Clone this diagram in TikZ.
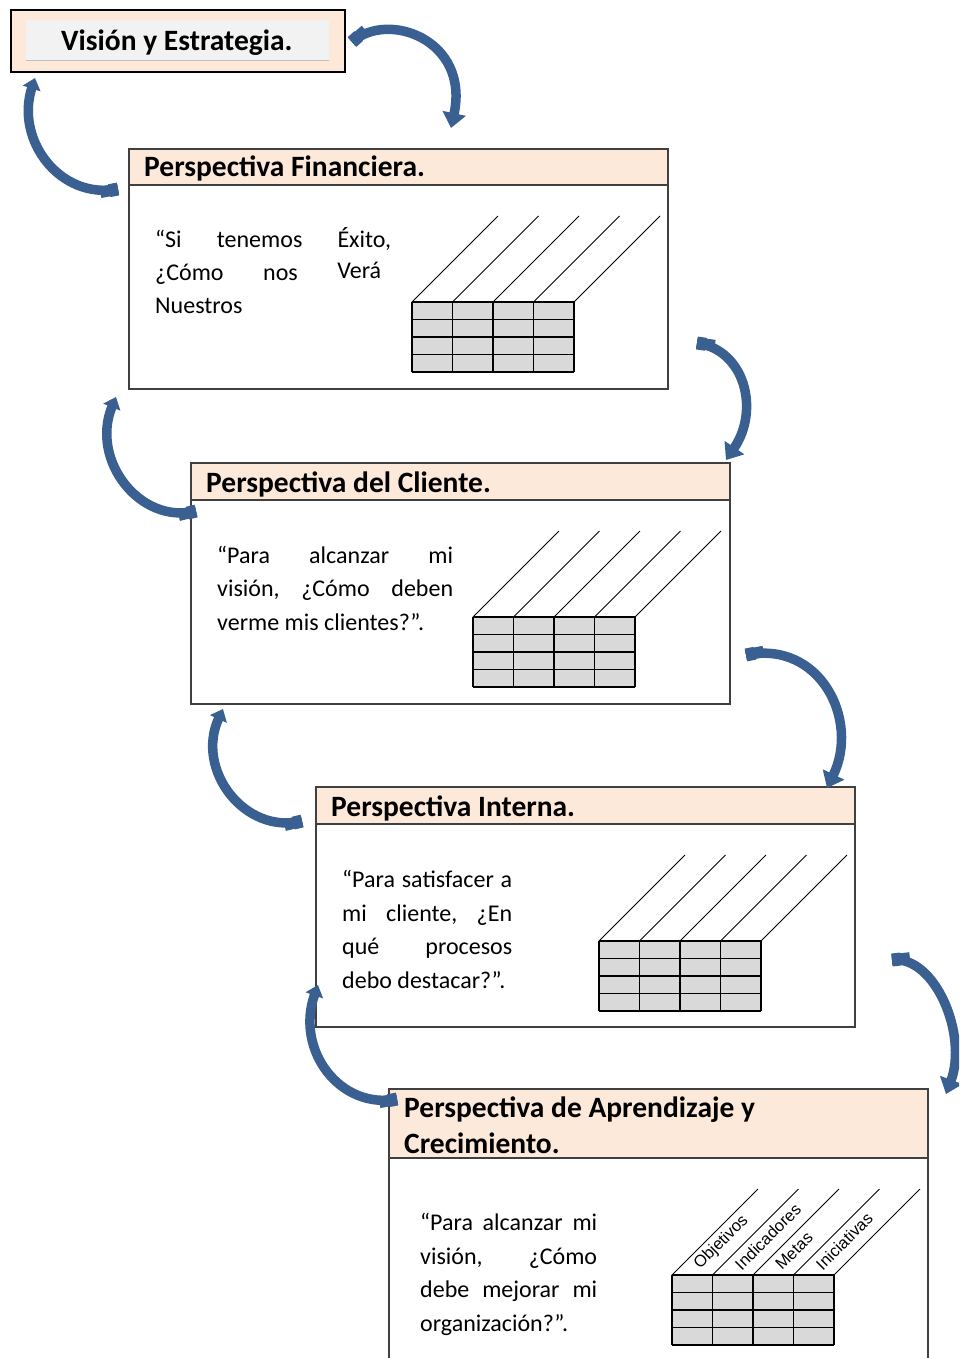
\documentclass[tikz,border=0pt]{standalone}
\usepackage{fontspec}
\setmainfont{Carlito}
\newfontfamily\lblfont{Liberation Sans}
\usetikzlibrary{arrows.meta,calc}
\definecolor{peach}{HTML}{FDE9D9}
\definecolor{gridfill}{HTML}{D9D9D9}
\definecolor{arrowblue}{HTML}{3A5F91}
\definecolor{innergray}{HTML}{F2F2F2}
\newcommand{\bscgrid}[3]{%
  \begin{scope}[shift={(#1,#2)}]
    \fill[gridfill] (0,0) rectangle (162,70);
    \foreach \i in {0,...,4} {
      \draw[diagline] (\i*40.5,0) -- ++(86,-86);
      \draw[gridline] (\i*40.5,0) -- (\i*40.5,70);
    }
    \foreach \j in {0,...,4} \draw[gridline] (0,\j*17.5) -- (162,\j*17.5);
    #3
  \end{scope}}
\newcommand{\bscarrow}[6]{%
  \coordinate (#1s) at (#2);
  \coordinate (#1e) at (#5);
  \draw[bigarrow,#6] (#1s) .. controls (#3) and (#4) .. (#1e);
  \draw[arrowblue, line width=13pt] (#1s) -- ($(#1s)!9pt!(#3)$);
  \draw[arrowblue, line width=11.5pt] (#1s) -- ($(#1s)!18pt!(#3)$);}
\begin{document}
\begin{tikzpicture}[x=1pt,y=-1pt,
  box/.style={draw=black!75, line width=1.3pt, fill=white, anchor=north west,
    minimum width=539pt, inner sep=0pt, outer sep=0pt},
  header/.style={draw=black!75, line width=1.3pt, fill=peach, anchor=north west,
    minimum width=539pt, inner sep=0pt, outer sep=0pt},
  ttl/.style={font=\fontsize{29.5}{35}\selectfont\bfseries, anchor=base west, inner sep=0pt},
  body/.style={font=\fontsize{24}{33.5}\selectfont, anchor=base west, inner sep=0pt},
  lbl/.style={font=\lblfont\fontsize{16.5}{16.5}\selectfont, anchor=west, rotate=45, inner sep=0pt},
  gridline/.style={black, line width=1.4pt},
  diagline/.style={black, line width=0.9pt},
  bigarrow/.style={arrowblue, line width=9.5pt, line cap=butt},
  rhead/.style={-{Triangle[width=23pt,length=15pt]}},
  lhead/.style={-{Triangle[width=18pt,length=11pt]}}]
\useasboundingbox (0,0) rectangle (959,1358);
\clip (0,0) rectangle (959,1358);

% Vision box
\node[draw=black, line width=2pt, fill=peach, anchor=north west, minimum width=334pt,
  minimum height=62pt, inner sep=0pt] (v) at (10,9) {};
\node[fill=innergray, anchor=north west, minimum width=303pt, minimum height=40pt,
  inner sep=0pt] (vi) at (26,20) {};
\draw[black!25, line width=1pt] (vi.south west) -- (vi.south east);
\node[ttl] (vt) at (61,50) {Visión y Estrategia.};

% Box 1
\node[box, minimum height=240pt] (b1) at (129,149) {};
\node[header, minimum height=36pt] (h1) at (129,149) {};
\node[ttl] (t1) at (144,176) {Perspectiva Financiera.};
\node[body] (f1) at (155,247) {\hbox to 236pt{“Si\hfill tenemos\hfill Éxito,}};
\node[body] (f2) at (155,280) {\hbox to 226pt{¿Cómo\hfill nos\hfill \raisebox{1.5pt}{Verá}}};
\node[body] (f3) at (155,313) {Nuestros};
\bscgrid{412}{302}{}

% Box 2
\node[box, minimum height=241pt] (b2) at (191,463) {};
\node[header, minimum height=37pt] (h2) at (191,463) {};
\node[ttl] (t2) at (206,492) {Perspectiva del Cliente.};
\node[body] (c1) at (217,563) {\hbox to 236pt{“Para\hfill alcanzar\hfill mi}};
\node[body] (c2) at (217,596.5) {\hbox to 236pt{visión,\hfill ¿Cómo\hfill deben}};
\node[body] (c3) at (217,630) {verme mis clientes?”.};
\bscgrid{473}{617}{}

% Box 3
\node[box, minimum height=240pt] (b3) at (316,787) {};
\node[header, minimum height=37pt] (h3) at (316,787) {};
\node[ttl] (t3) at (331,816) {Perspectiva Interna.};
\node[body] (i1) at (342,887.5) {\hbox to 170pt{“Para\hfill satisfacer\hfill a}};
\node[body] (i2) at (342,921) {\hbox to 170pt{mi\hfill cliente,\hfill ¿En}};
\node[body] (i3) at (342,954.5) {\hbox to 170pt{qué\hfill procesos}};
\node[body] (i4) at (342,988) {debo destacar?”.};
\bscgrid{599}{941}{}

% Box 4
\node[box, minimum height=300pt] (b4) at (389,1089) {};
\node[header, minimum height=69pt] (h4) at (389,1089) {};
\node[ttl] (t4a) at (404,1117) {Perspectiva de Aprendizaje y};
\node[ttl] (t4b) at (404,1153) {Crecimiento.};
\node[body] (a1) at (420,1230) {\hbox to 177pt{“Para\hfill alcanzar\hfill mi}};
\node[body] (a2) at (420,1264) {\hbox to 177pt{visión,\hfill ¿Cómo}};
\node[body] (a3) at (420,1297) {\hbox to 177pt{debe\hfill mejorar\hfill mi}};
\node[body] (a4) at (420,1331) {organización?”.};
\bscgrid{672}{1275}{%
  \node[lbl] (l1) at (25,-8) {Objetivos};
  \node[lbl] (l2) at (65.5,-8) {Indicadores};
  \node[lbl] (l3) at (106,-8) {Metas};
  \node[lbl] (l4) at (146.5,-8) {Iniciativas};}

% Curved arrows
\bscarrow{a1}{352,42}{388,10}{470,40}{451,128}{rhead}
\bscarrow{a2}{118,189}{60,200}{15,140}{35,78}{lhead}
\bscarrow{a3}{697,343}{745,350}{760,410}{726,460}{rhead}
\bscarrow{a4}{196,511}{140,525}{90,460}{116,397}{lhead}
\bscarrow{a5}{746,655}{820,640}{860,720}{827,788}{rhead}
\bscarrow{a6}{302,821}{245,835}{195,770}{223,709}{lhead}
\bscarrow{a7}{892,960}{935,955}{968,1035}{946,1094}{rhead}
\bscarrow{a8}{397,1099}{340,1110}{295,1050}{318,985}{lhead}
\end{tikzpicture}
\end{document}
